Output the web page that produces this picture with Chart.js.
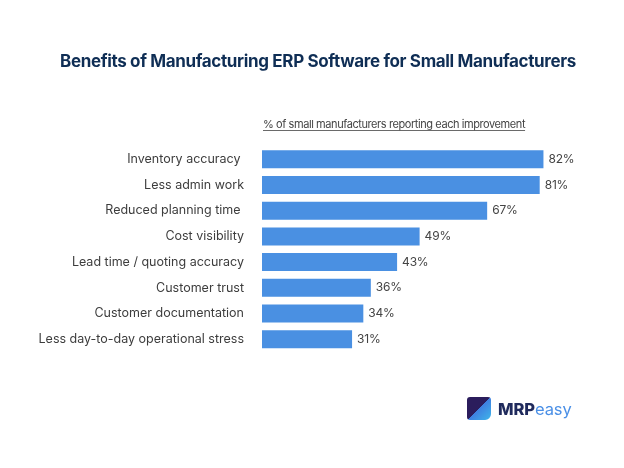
<!DOCTYPE html>
<html>
<head>
<meta charset="utf-8">
<script src="https://cdn.jsdelivr.net/npm/chart.js@4.4.1/dist/chart.umd.min.js"></script>
<style>
  html, body { margin: 0; padding: 0; background: #fff; }
  #wrap { position: relative; width: 624px; height: 468px; }
  #logo { position: absolute; left: 467px; top: 397px; display: flex; align-items: center; font-family: Inter, sans-serif; }
  #logo .mark { width: 24px; height: 23px; border-radius: 3px 3px 6px 3px;
    background: linear-gradient(135deg, #2b1d5c 0%, #2b1d5c 50%, #3f7fe0 50%, #3fb6ea 100%); }
  #logo .txt { margin-left: 7px; font-size: 16.5px; letter-spacing: -0.1px; }
  #logo .mrp { font-weight: 800; color: #1f2a5c; }
  #logo .easy { font-weight: 400; color: #4a8fe6; }
</style>
</head>
<body>
<div id="wrap">
  <canvas id="myChart" width="624" height="468"></canvas>
  <div id="logo"><div class="mark"></div><div class="txt"><span class="mrp">MRP</span><span class="easy">easy</span></div></div>
</div>
<script>
const categories = ['Inventory accuracy ', 'Less admin work', 'Reduced planning time ', 'Cost visibility',
  'Lead time / quoting accuracy', 'Customer trust', 'Customer documentation', 'Less day-to-day operational stress']
const values = [82, 81, 67, 49, 43, 36, 34, 31]
const titleText = 'Benefits of Manufacturing ERP Software for Small Manufacturers'
const axisNote = '% of small manufacturers reporting each improvement'

const FONT = 'Inter, "Noto Sans", sans-serif'

// title, underlined axis note and the % labels
const textPlugin = {
  id: 'texts',
  afterDatasetsDraw(chart) {
    const ctx = chart.ctx
    const area = chart.chartArea
    ctx.save()
    ctx.fillStyle = '#0f2e55'
    ctx.font = '700 17px ' + FONT
    ctx.letterSpacing = '-0.35px'
    ctx.textAlign = 'center'
    ctx.textBaseline = 'middle'
    ctx.fillText(titleText, 318, 62)

    ctx.fillStyle = '#444'
    ctx.font = '400 11px ' + FONT
    ctx.letterSpacing = '-0.42px'
    ctx.textAlign = 'left'
    ctx.textBaseline = 'alphabetic'
    ctx.fillText(axisNote, area.left + 1, 128)
    const w = ctx.measureText(axisNote).width
    ctx.strokeStyle = '#444'
    ctx.lineWidth = 0.8
    ctx.beginPath()
    ctx.moveTo(area.left + 1, 130.5)
    ctx.lineTo(area.left + 1 + w, 130.5)
    ctx.stroke()

    ctx.letterSpacing = '-0.2px'
    ctx.font = '400 12px ' + FONT
    ctx.textBaseline = 'middle'
    chart.getDatasetMeta(0).data.forEach((bar, i) => {
      ctx.fillText(values[i] + '%', bar.x + 5, bar.y)
    })
    ctx.restore()
  }
}

new Chart(document.getElementById('myChart'), {
  type: 'bar',
  data: {
    labels: categories,
    datasets: [{
      data: values,
      backgroundColor: '#4a90e2',
      borderWidth: 0,
      barPercentage: 0.7,
      categoryPercentage: 1
    }]
  },
  options: {
    indexAxis: 'y',
    responsive: false,
    animation: false,
    layout: { padding: { top: 146.5, bottom: 116, left: 0, right: 13 } },
    plugins: { legend: { display: false }, tooltip: { enabled: false } },
    scales: {
      x: { display: false, min: 7, max: 100 },
      y: {
        grid: { display: false, drawTicks: false },
        border: { display: false },
        ticks: { color: '#3d3d3d', font: { family: FONT, size: 12.5 }, padding: 18 },
        afterFit(scale) { scale.width = 262 }
      }
    }
  },
  plugins: [textPlugin]
})
</script>
</body>
</html>
